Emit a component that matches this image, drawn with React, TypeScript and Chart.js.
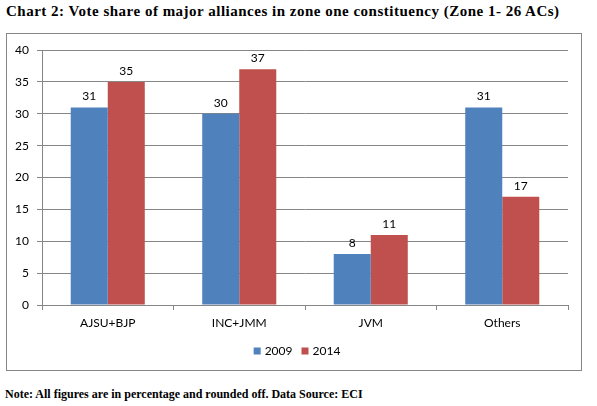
import React, { useEffect, useRef } from "react";
import { Chart, registerables } from "chart.js";

Chart.register(...registerables);

const categories = ["AJSU+BJP", "INC+JMM", "JVM", "Others"];
const series2009 = [31, 30, 8, 31];
const series2014 = [35, 37, 11, 17];
const seriesNames = ["2009", "2014"];
const yTicks = [0, 5, 10, 15, 20, 25, 30, 35, 40];

const BLUE = "#4F81BD";
const RED = "#C0504D";
const GRID = "#868686";
const FONT = "Lato";

const valueLabels = {
  id: "valueLabels",
  afterDatasetsDraw(chart: any) {
    const ctx = chart.ctx;
    ctx.save();
    ctx.font = `12px ${FONT}`;
    ctx.fillStyle = "#000";
    ctx.textAlign = "center";
    ctx.textBaseline = "bottom";
    chart.data.datasets.forEach((ds: any, i: number) => {
      const meta = chart.getDatasetMeta(i);
      meta.data.forEach((el: any, j: number) => {
        ctx.fillText(String(ds.data[j]), el.x, el.y - 5);
      });
    });
    ctx.restore();
  },
};

const customLegend = {
  id: "customLegend",
  afterDraw(chart: any) {
    const ctx = chart.ctx;
    ctx.save();
    ctx.font = `12px ${FONT}`;
    ctx.textBaseline = "middle";
    ctx.textAlign = "left";
    const box = 7;
    const gap = 4;
    const spacing = 9;
    const items = chart.data.datasets.map((ds: any) => ({
      text: ds.label,
      color: ds.backgroundColor,
      w: ctx.measureText(ds.label).width,
    }));
    let total = 0;
    items.forEach((it: any, i: number) => {
      total += box + gap + it.w + (i < items.length - 1 ? spacing : 0);
    });
    const cx = 290;
    const cy = 317;
    let x = cx - total / 2;
    items.forEach((it: any) => {
      ctx.fillStyle = it.color;
      ctx.fillRect(x, cy - box / 2, box, box);
      x += box + gap;
      ctx.fillStyle = "#000";
      ctx.fillText(it.text, x, cy);
      x += it.w + spacing;
    });
    ctx.restore();
  },
};

export default function App() {
  const ref = useRef<HTMLCanvasElement | null>(null);

  useEffect(() => {
    if (!ref.current) return;
    const chart = new Chart(ref.current, {
      type: "bar",
      data: {
        labels: categories,
        datasets: [
          {
            label: seriesNames[0],
            data: series2009,
            backgroundColor: BLUE,
            categoryPercentage: 0.563,
            barPercentage: 1,
          },
          {
            label: seriesNames[1],
            data: series2014,
            backgroundColor: RED,
            categoryPercentage: 0.563,
            barPercentage: 1,
          },
        ],
      },
      options: {
        animation: false,
        responsive: false,
        devicePixelRatio: 1,
        layout: { padding: { left: 0, right: 13, top: 16, bottom: 0 } },
        plugins: {
          legend: { display: false },
          tooltip: { enabled: false },
          title: { display: false },
        },
        scales: {
          x: {
            grid: {
              display: true,
              drawOnChartArea: false,
              drawTicks: true,
              tickLength: 5,
              color: GRID,
              offset: true,
            },
            border: { color: GRID },
            ticks: {
              color: "#000",
              font: { family: FONT, size: 12 },
              padding: 6,
              maxRotation: 0,
            },
            afterFit: (s: any) => {
              s.height = 65;
            },
          },
          y: {
            min: 0,
            max: 40,
            grid: {
              color: GRID,
              tickLength: 5,
            },
            border: { color: GRID },
            afterBuildTicks: (s: any) => {
              s.ticks = yTicks.map((v) => ({ value: v }));
            },
            ticks: {
              color: "#000",
              font: { family: FONT, size: 12 },
              padding: 8,
            },
            afterFit: (s: any) => {
              s.width = 35;
            },
          },
        },
      },
      plugins: [valueLabels, customLegend],
    });
    return () => chart.destroy();
  }, []);

  return (
    <div
      style={{
        position: "absolute",
        left: 0,
        top: 0,
        width: 597,
        height: 406,
        background: "#fff",
        overflow: "hidden",
      }}
    >
      <div
        style={{
          position: "absolute",
          left: 6,
          top: 4,
          fontFamily: "'Liberation Serif', serif",
          fontWeight: "bold",
          fontSize: 15,
          letterSpacing: "0.5px",
          lineHeight: "15px",
          whiteSpace: "nowrap",
          color: "#000",
        }}
      >
        Chart 2: Vote share of major alliances in zone one constituency (Zone 1- 26 ACs)
      </div>
      <div
        style={{
          position: "absolute",
          left: 6,
          top: 33,
          width: 576,
          height: 338,
          border: `1px solid ${GRID}`,
          boxSizing: "border-box",
        }}
      >
        <canvas ref={ref} width={574} height={336} style={{ display: "block" }} />
      </div>
      <div
        style={{
          position: "absolute",
          left: 5,
          top: 388,
          fontFamily: "'Liberation Serif', serif",
          fontWeight: "bold",
          fontSize: 12,
          lineHeight: "12px",
          whiteSpace: "nowrap",
          color: "#000",
        }}
      >
        Note: All figures are in percentage and rounded off. Data Source: ECI
      </div>
    </div>
  );
}
